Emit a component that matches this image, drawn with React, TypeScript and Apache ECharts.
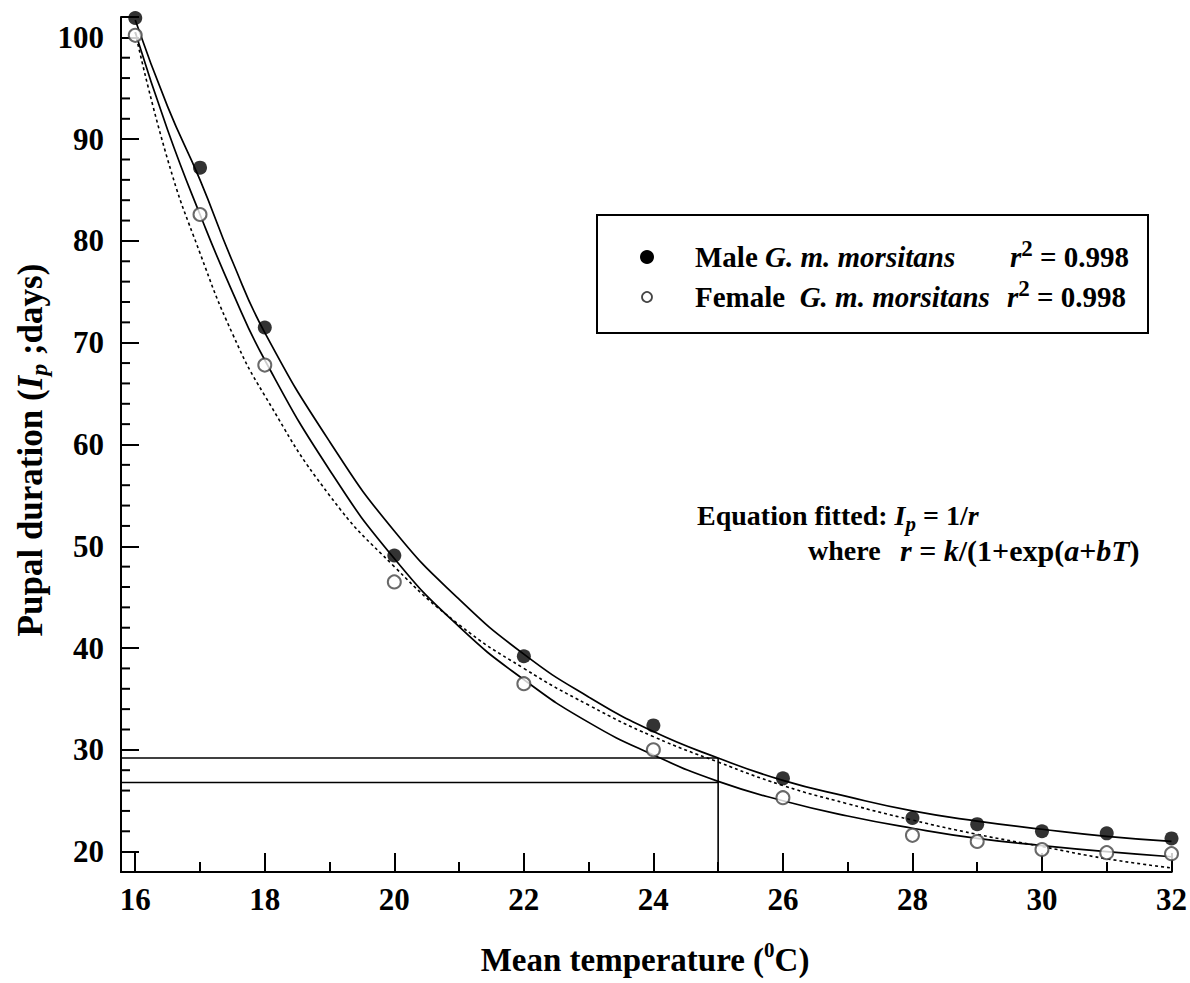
import React, { useEffect, useRef } from "react";
import * as echarts from "echarts";

// ---- data ----
const obsTemps = [16, 17, 18, 20, 22, 24, 26, 28, 29, 30, 31, 32];
const maleObs = [101.9, 87.2, 71.5, 49.1, 39.2, 32.4, 27.2, 23.3, 22.7, 22.0, 21.8, 21.3];
const femaleObs = [100.2, 82.6, 67.8, 46.5, 36.5, 30.0, 25.3, 21.6, 21.0, 20.2, 19.9, 19.8];

const curveTemps = [16, 16.5, 17, 17.5, 18, 19, 20, 21, 22, 23, 24, 25, 26, 27, 28, 29, 30, 31, 32];
const maleCurve = [101.7, 93.2, 86.0, 78.0, 71.0, 60.3, 51.5, 44.8, 39.4, 35.2, 31.8, 29.2, 27.0, 25.4, 24.0, 23.0, 22.2, 21.5, 21.0];
const femaleCurve = [100.5, 90.9, 82.6, 75.0, 68.3, 57.5, 48.8, 42.1, 36.9, 32.7, 29.5, 26.9, 25.0, 23.5, 22.3, 21.3, 20.6, 20.0, 19.5];
const dottedCurve = [100.5, 88.0, 78.8, 70.9, 64.8, 55.0, 48.0, 42.3, 38.0, 34.4, 31.3, 28.8, 26.5, 24.7, 23.1, 21.7, 20.5, 19.3, 18.4];

// y-axis minor tick values
const yMinorTicks = [22, 24, 26, 28, 32, 34, 36, 38, 42, 44, 46, 48, 52, 54, 56, 58, 62, 64, 66, 68, 72, 74, 76, 78, 82, 84, 86, 88, 92, 94, 96, 98, 102];

const refTemp = 25;
const refMale = 29.2;
const refFemale = 26.8;

const xMin = 15.78;
const xMax = 32;
const yMin = 18;
const yMax = 102;

const FONT = "'Liberation Serif', 'Times New Roman', serif";

const zip = (xs: number[], ys: number[]) => xs.map((x, i) => [x, ys[i]]);

const isMult = (v: number, m: number) => {
  const r = Math.round(v);
  return Math.abs(v - r) < 1e-6 && r % m === 0;
};

const txt = (size: number, extra: any = {}) => ({
  fontSize: size,
  fontWeight: "bold",
  fontFamily: FONT,
  fill: "#000",
  color: "#000",
  ...extra,
});

export default function App() {
  const ref = useRef<HTMLDivElement>(null);

  useEffect(() => {
    if (!ref.current) return;
    const chart = echarts.init(ref.current, null, { renderer: "svg" });

    const lineBase = {
      type: "line",
      xAxisIndex: 0,
      yAxisIndex: 0,
      showSymbol: false,
      symbol: "none",
      silent: true,
    };

    const axisLineStyle = { color: "#000", width: 2 };

    const tickSeries = (values: number[], len: number) => ({
      type: "custom",
      silent: true,
      clip: false,
      xAxisIndex: 0,
      yAxisIndex: 0,
      z: 3,
      data: values.map((v) => [xMin, v]),
      renderItem: (_p: any, api: any) => {
        const pt = api.coord([xMin, api.value(1)]);
        return {
          type: "line",
          shape: { x1: pt[0], y1: pt[1], x2: pt[0] + len, y2: pt[1] },
          style: { stroke: "#000", lineWidth: 2 },
        };
      },
    });

    const option: any = {
      animation: false,
      backgroundColor: "#fff",
      grid: { left: 121, right: 18, top: 17, bottom: 111, containLabel: false },
      xAxis: [
        {
          type: "value",
          min: xMin,
          max: xMax,
          minInterval: 2,
          maxInterval: 2,
          position: "bottom",
          axisLine: { show: true, onZero: false, lineStyle: axisLineStyle },
          axisTick: { show: true, inside: true, length: 19, lineStyle: { color: "#000", width: 2 } },
          axisLabel: {
            show: true,
            margin: 12,
            formatter: (v: number) => (isMult(v, 2) ? String(Math.round(v)) : ""),
            color: "#000",
            fontSize: 31,
            fontWeight: "bold",
            fontFamily: FONT,
          },
          splitLine: { show: false },
        },
        {
          type: "value",
          min: xMin,
          max: xMax,
          minInterval: 1,
          maxInterval: 1,
          position: "bottom",
          offset: 0,
          axisLine: { show: true, onZero: false, lineStyle: axisLineStyle },
          axisTick: { show: true, inside: true, length: 10, lineStyle: { color: "#000", width: 2 } },
          axisLabel: { show: false },
          splitLine: { show: false },
        },
      ],
      yAxis: [
        {
          type: "value",
          min: yMin,
          max: yMax,
          minInterval: 10,
          maxInterval: 10,
          position: "left",
          axisLine: { show: true, onZero: false, lineStyle: axisLineStyle },
          axisTick: { show: true, inside: true, length: 18, lineStyle: { color: "#000", width: 2 } },
          axisLabel: {
            show: true,
            margin: 17,
            formatter: (v: number) => (isMult(v, 10) ? String(Math.round(v)) : ""),
            color: "#000",
            fontSize: 31,
            fontWeight: "bold",
            fontFamily: FONT,
          },
          splitLine: { show: false },
        },
      ],
      series: [
        tickSeries(yMinorTicks, 9),
        {
          ...lineBase,
          name: "Male fit",
          data: zip(curveTemps, maleCurve),
          smooth: 0.5,
          lineStyle: { color: "#000", width: 1.7 },
          z: 2,
        },
        {
          ...lineBase,
          name: "Female fit",
          data: zip(curveTemps, femaleCurve),
          smooth: 0.5,
          lineStyle: { color: "#000", width: 1.7 },
          z: 2,
        },
        {
          ...lineBase,
          name: "Linear model",
          data: zip(curveTemps, dottedCurve),
          smooth: 0.5,
          lineStyle: { color: "#000", width: 1.6, type: [3, 3] },
          z: 2,
        },
        {
          ...lineBase,
          name: "ref male",
          data: [
            [xMin, refMale],
            [refTemp, refMale],
          ],
          lineStyle: { color: "#000", width: 1.6 },
          z: 2,
        },
        {
          ...lineBase,
          name: "ref female",
          data: [
            [xMin, refFemale],
            [refTemp, refFemale],
          ],
          lineStyle: { color: "#000", width: 1.6 },
          z: 2,
        },
        {
          ...lineBase,
          name: "ref vertical",
          data: [
            [refTemp, yMin],
            [refTemp, refMale],
          ],
          lineStyle: { color: "#000", width: 1.6 },
          z: 2,
        },
        {
          type: "scatter",
          name: "Male G. m. morsitans",
          data: zip(obsTemps, maleObs),
          symbol: "circle",
          symbolSize: 14,
          clip: false,
          itemStyle: { color: "#000" },
          z: 5,
        },
        {
          type: "scatter",
          name: "Female G. m. morsitans",
          data: zip(obsTemps, femaleObs),
          symbol: "circle",
          symbolSize: 13,
          clip: false,
          itemStyle: { color: "#fff", borderColor: "#444", borderWidth: 2 },
          z: 5,
        },
      ],
      graphic: [
        // y axis title
        {
          type: "text",
          x: 30,
          y: 450,
          rotation: Math.PI / 2,
          style: {
            text: "{b|Pupal duration (}{i|I}{s|p}{b| ;days)}",
            align: "center",
            verticalAlign: "middle",
            rich: {
              b: txt(35, { lineHeight: 42 }),
              i: txt(35, { lineHeight: 42, fontStyle: "italic" }),
              s: txt(24, { lineHeight: 24, fontStyle: "italic", verticalAlign: "bottom" }),
            },
          },
        },
        // x axis title
        {
          type: "text",
          x: 645,
          y: 960,
          style: {
            text: "{b|Mean temperature (}{sup|0}{b|C)}",
            align: "center",
            verticalAlign: "middle",
            rich: {
              b: txt(33, { lineHeight: 42 }),
              sup: txt(21, { lineHeight: 21, verticalAlign: "top" }),
            },
          },
        },
        // legend box
        {
          type: "rect",
          shape: { x: 597, y: 215, width: 551, height: 118 },
          style: { fill: "#fff", stroke: "#000", lineWidth: 2 },
          z: 10,
        },
        {
          type: "circle",
          shape: { cx: 647, cy: 257, r: 7 },
          style: { fill: "#000" },
          z: 11,
        },
        {
          type: "circle",
          shape: { cx: 647, cy: 297, r: 5 },
          style: { fill: "#fff", stroke: "#444", lineWidth: 1.8 },
          z: 11,
        },
        {
          type: "text",
          x: 695,
          y: 257,
          z: 11,
          style: {
            text: "{b|Male }{bi|G. m. morsitans}",
            align: "left",
            verticalAlign: "middle",
            rich: {
              b: txt(29, { lineHeight: 36 }),
              bi: txt(29, { lineHeight: 36, fontStyle: "italic" }),
            },
          },
        },
        {
          type: "text",
          x: 1010,
          y: 257,
          z: 11,
          style: {
            text: "{bi|r}{sup|2}{b| = 0.998}",
            align: "left",
            verticalAlign: "middle",
            rich: {
              b: txt(29, { lineHeight: 40 }),
              bi: txt(29, { lineHeight: 40, fontStyle: "italic" }),
              sup: txt(23, { lineHeight: 23, verticalAlign: "top" }),
            },
          },
        },
        {
          type: "text",
          x: 695,
          y: 297,
          z: 11,
          style: {
            text: "{b|Female  }{bi|G. m. morsitans}",
            align: "left",
            verticalAlign: "middle",
            rich: {
              b: txt(29, { lineHeight: 36 }),
              bi: txt(29, { lineHeight: 36, fontStyle: "italic" }),
            },
          },
        },
        {
          type: "text",
          x: 1007,
          y: 297,
          z: 11,
          style: {
            text: "{bi|r}{sup|2}{b| = 0.998}",
            align: "left",
            verticalAlign: "middle",
            rich: {
              b: txt(29, { lineHeight: 40 }),
              bi: txt(29, { lineHeight: 40, fontStyle: "italic" }),
              sup: txt(23, { lineHeight: 23, verticalAlign: "top" }),
            },
          },
        },
        // equation
        {
          type: "text",
          x: 697,
          y: 515,
          style: {
            text: "{b|Equation fitted: }{bi|I}{sub|p}{b| = 1/}{bi|r}",
            align: "left",
            verticalAlign: "middle",
            rich: {
              b: txt(28, { lineHeight: 38 }),
              bi: txt(28, { lineHeight: 38, fontStyle: "italic" }),
              sub: txt(21, { lineHeight: 21, fontStyle: "italic", verticalAlign: "bottom" }),
            },
          },
        },
        {
          type: "text",
          x: 808,
          y: 550,
          style: {
            text: "{b|where}",
            align: "left",
            verticalAlign: "middle",
            rich: { b: txt(28, { lineHeight: 34 }) },
          },
        },
        {
          type: "text",
          x: 900,
          y: 550,
          style: {
            text: "{bi|r}{b| = }{bi|k}{b|/(1+exp(}{bi|a}{b|+}{bi|bT}{b|)}",
            align: "left",
            verticalAlign: "middle",
            rich: {
              b: txt(30, { lineHeight: 34 }),
              bi: txt(30, { lineHeight: 34, fontStyle: "italic" }),
            },
          },
        },
      ],
    };

    chart.setOption(option);
    return () => chart.dispose();
  }, []);

  return (
    <div
      ref={ref}
      style={{ position: "fixed", left: 0, top: 0, width: 1190, height: 983, background: "#fff" }}
    />
  );
}
